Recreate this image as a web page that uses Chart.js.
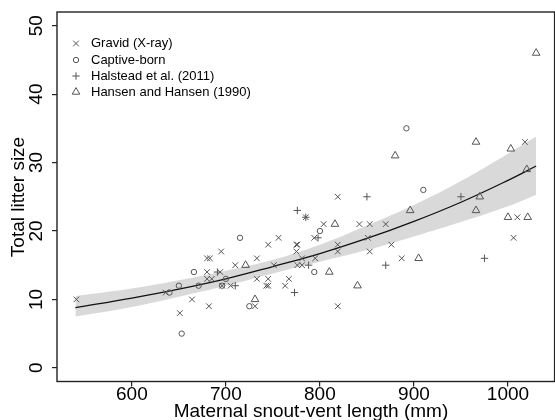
<!DOCTYPE html>
<html>
<head>
<meta charset="utf-8">
<script src="https://cdn.jsdelivr.net/npm/chart.js@4.4.0/dist/chart.umd.min.js"></script>
<style>
  html, body { margin: 0; padding: 0; background: #fff; overflow: hidden; width: 555px; height: 420px; }
  canvas { display: block; }
</style>
</head>
<body>
<canvas id="litterChart" width="560" height="420" style="width:560px;height:420px"></canvas>
<script>
// Gravid (X-ray)
const gravidSvl = [541, 680, 683, 680, 694, 680, 685, 636, 664, 651, 682, 785, 804, 794, 745, 756, 775, 776, 775, 695,
                   733, 710, 781, 795, 751, 776, 781, 733, 745, 767, 696, 705, 743, 745, 763, 731, 819, 842, 853, 870,
                   851, 819, 819, 876, 853, 887, 819, 1018, 1010, 1006];
const gravidLitter = [10, 16, 16, 14, 14, 13, 13, 11, 10, 8, 9, 22, 21, 19, 18, 19, 18, 18, 17, 17,
                      16, 15, 16, 16, 15, 15, 15, 13, 13, 13, 12, 12, 12, 12, 12, 9, 25, 21, 21, 21,
                      19, 18, 17, 18, 17, 16, 9, 33, 22, 19];
// Captive-born
const captiveSvl = [666, 650, 671, 640, 653, 715, 800, 700, 696, 725, 892, 910, 794];
const captiveLitter = [14, 12, 12, 11, 5, 19, 20, 13, 12, 9, 35, 26, 14];
// Halstead et al. (2011)
const halsteadSvl = [691, 776, 785, 798, 788, 710, 773, 850, 870, 950, 975];
const halsteadLitter = [14, 23, 22, 19, 15, 12, 11, 25, 15, 25, 16];
// Hansen and Hansen (1990)
const hansenSvl = [721, 731, 880, 896, 816, 905, 810, 840, 966, 1003, 1020, 970, 966, 1000, 1021, 1030];
const hansenLitter = [15, 10, 31, 23, 21, 16, 14, 12, 33, 32, 29, 25, 23, 22, 22, 46];

// fitted curve and confidence band
const fitSvl = [540, 600, 650, 700, 750, 800, 850, 900, 950, 1000, 1030];
const fitMean = [8.8, 10.2, 11.5, 13.0, 14.8, 16.7, 18.9, 21.4, 24.2, 27.4, 29.5];
const fitLower = [7.5, 8.9, 10.4, 12.0, 13.8, 15.5, 17.2, 19.2, 21.3, 23.6, 25.3];
const fitUpper = [10.5, 11.6, 12.8, 14.2, 15.8, 18.0, 20.8, 23.8, 27.3, 31.3, 33.8];

const xTicks = [600, 700, 800, 900, 1000];
const yTicks = [0, 10, 20, 30, 40, 50];

const markColor = '#555555';
const fontFamily = 'Arial, "Liberation Sans", sans-serif';

function pairs(xs, ys) {
    return xs.map(function (x, i) { return { x: x, y: ys[i] }; });
}

const seriesDefs = [
    { label: 'Gravid (X-ray)', xs: gravidSvl, ys: gravidLitter, style: 'crossRot', radius: 4 },
    { label: 'Captive-born', xs: captiveSvl, ys: captiveLitter, style: 'circle', radius: 2.7 },
    { label: 'Halstead et al. (2011)', xs: halsteadSvl, ys: halsteadLitter, style: 'cross', radius: 3.7 },
    { label: 'Hansen and Hansen (1990)', xs: hansenSvl, ys: hansenLitter, style: 'triangle', radius: 4.4 }
];

const datasets = [
    {
        type: 'line', label: 'lower', data: pairs(fitSvl, fitLower),
        borderWidth: 0, pointRadius: 0, fill: false, tension: 0.4, order: 10
    },
    {
        type: 'line', label: 'upper', data: pairs(fitSvl, fitUpper),
        borderWidth: 0, pointRadius: 0, fill: '-1', backgroundColor: '#d9d9d9', tension: 0.4, order: 9
    },
    {
        type: 'line', label: 'fit', data: pairs(fitSvl, fitMean),
        borderColor: '#111', borderWidth: 1.3, pointRadius: 0, fill: false, tension: 0.4, order: 5
    }
];
seriesDefs.forEach(function (s) {
    datasets.push({
        type: 'scatter',
        label: s.label,
        data: pairs(s.xs, s.ys),
        pointStyle: s.style,
        pointRadius: s.radius,
        pointHoverRadius: s.radius,
        borderColor: markColor,
        backgroundColor: 'rgba(0,0,0,0)',
        pointBorderWidth: 1,
        order: 1
    });
});

// frame, rotated y labels, axis titles and legend
const extrasPlugin = {
    id: 'extras',
    afterDraw: function (chart) {
        const ctx = chart.ctx;
        const area = chart.chartArea;
        const yScale = chart.scales.y;
        ctx.save();
        ctx.strokeStyle = '#222';
        ctx.lineWidth = 1.4;
        ctx.strokeRect(area.left, area.top, area.right - area.left, area.bottom - area.top);

        ctx.fillStyle = '#000';
        ctx.textAlign = 'center';
        ctx.textBaseline = 'middle';
        ctx.font = '19px ' + fontFamily;
        yTicks.forEach(function (v) {
            ctx.save();
            ctx.translate(37, yScale.getPixelForValue(v));
            ctx.rotate(-Math.PI / 2);
            ctx.fillText(String(v), 0, 0);
            ctx.restore();
        });

        ctx.save();
        ctx.translate(19, 197);
        ctx.rotate(-Math.PI / 2);
        ctx.fillText('Total litter size', 0, 0);
        ctx.restore();

        ctx.fillText('Maternal snout-vent length (mm)', 311, 412);

        // legend
        ctx.font = '13px ' + fontFamily;
        ctx.textAlign = 'left';
        const rows = [43.5, 60, 76, 92];
        seriesDefs.forEach(function (s, i) {
            ctx.strokeStyle = markColor;
            ctx.fillStyle = 'rgba(0,0,0,0)';
            ctx.lineWidth = 1;
            Chart.helpers.drawPoint(ctx, { pointStyle: s.style, radius: s.radius, rotation: 0, borderWidth: 1 }, 76, rows[i]);
            ctx.fillStyle = '#000';
            ctx.fillText(s.label, 91, rows[i]);
        });
        ctx.restore();
    }
};

new Chart(document.getElementById('litterChart').getContext('2d'), {
    type: 'scatter',
    data: { datasets: datasets },
    options: {
        responsive: false,
        animation: false,
        layout: { padding: { top: 12, right: 3, left: 0, bottom: 0 } },
        plugins: {
            legend: { display: false },
            tooltip: { enabled: false },
            filler: { propagate: false }
        },
        scales: {
            x: {
                type: 'linear',
                min: 520.4,
                max: 1049.6,
                afterBuildTicks: function (scale) {
                    scale.ticks = xTicks.map(function (v) { return { value: v }; });
                },
                afterFit: function (scale) { scale.height = 38.5; },
                border: { display: false },
                grid: { drawOnChartArea: false, drawTicks: true, tickLength: 5, color: '#222', lineWidth: 1.2 },
                ticks: {
                    color: '#000', font: { size: 19, family: fontFamily }, padding: -3, maxRotation: 0,
                    callback: function (value) { return String(value); }
                }
            },
            y: {
                type: 'linear',
                min: -2,
                max: 52,
                afterBuildTicks: function (scale) {
                    scale.ticks = yTicks.map(function (v) { return { value: v }; });
                },
                afterFit: function (scale) { scale.width = 57; },
                border: { display: false },
                grid: { drawOnChartArea: false, drawTicks: true, tickLength: 5, color: '#222', lineWidth: 1.2 },
                ticks: { display: false }
            }
        }
    },
    plugins: [extrasPlugin]
});
</script>
</body>
</html>
